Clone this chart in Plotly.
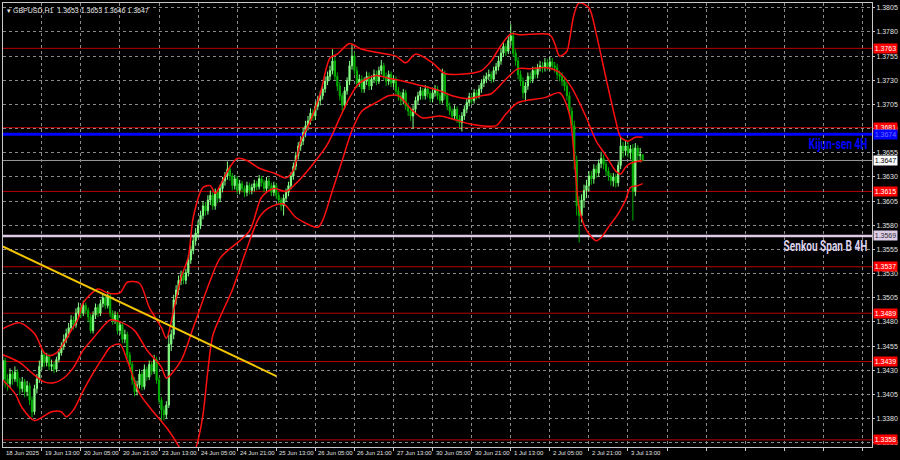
import plotly.graph_objects as go

# ---------------- data ----------------
first_open = 1.3420

close = [
    1.3440, 1.3421, 1.3416, 1.3426, 1.3421, 1.3428, 1.3418, 1.3411, 1.3418, 1.3408,
    1.3414, 1.3399, 1.3387, 1.3411, 1.3421, 1.3434, 1.3446, 1.3438, 1.3444, 1.3434,
    1.3436, 1.3431, 1.3441, 1.3448, 1.3455, 1.3462, 1.3468, 1.3474, 1.3482, 1.3477,
    1.3489, 1.3495, 1.3489, 1.3497, 1.3492, 1.3485, 1.3471, 1.3487, 1.3495, 1.3489,
    1.3499, 1.3505, 1.3497, 1.3507, 1.3489, 1.3482, 1.3487, 1.3471, 1.3477, 1.3462,
    1.3467, 1.3446, 1.3436, 1.3420, 1.3408, 1.3415, 1.3426, 1.3413, 1.3431, 1.3423,
    1.3436, 1.3429, 1.3441, 1.3420, 1.3399, 1.3389, 1.3384, 1.3394, 1.3457, 1.3467,
    1.3503, 1.3513, 1.3523, 1.3528, 1.3523, 1.3531, 1.3544, 1.3554, 1.3564, 1.3572,
    1.3580, 1.3590, 1.3600, 1.3595, 1.3606, 1.3611, 1.3600, 1.3614, 1.3608, 1.3618,
    1.3626, 1.3631, 1.3638, 1.3631, 1.3621, 1.3628, 1.3616, 1.3623, 1.3618, 1.3614,
    1.3621, 1.3616, 1.3619, 1.3623, 1.3620, 1.3628, 1.3624, 1.3618, 1.3626, 1.3621,
    1.3614, 1.3621, 1.3611, 1.3606, 1.3600, 1.3608, 1.3614, 1.3621, 1.3631, 1.3641,
    1.3652, 1.3662, 1.3667, 1.3676, 1.3683, 1.3688, 1.3696, 1.3693, 1.3703, 1.3709,
    1.3714, 1.3721, 1.3729, 1.3734, 1.3740, 1.3750, 1.3734, 1.3724, 1.3714, 1.3704,
    1.3719, 1.3729, 1.3745, 1.3755, 1.3740, 1.3727, 1.3731, 1.3721, 1.3729, 1.3734,
    1.3724, 1.3731, 1.3736, 1.3729, 1.3740, 1.3745, 1.3734, 1.3729, 1.3736, 1.3727,
    1.3731, 1.3719, 1.3714, 1.3709, 1.3717, 1.3703, 1.3698, 1.3693, 1.3700, 1.3709,
    1.3714, 1.3719, 1.3714, 1.3721, 1.3716, 1.3711, 1.3717, 1.3721, 1.3714, 1.3709,
    1.3737, 1.3714, 1.3703, 1.3698, 1.3693, 1.3700, 1.3690, 1.3686, 1.3693, 1.3700,
    1.3707, 1.3713, 1.3709, 1.3717, 1.3714, 1.3721, 1.3727, 1.3731, 1.3734, 1.3736,
    1.3731, 1.3740, 1.3744, 1.3750, 1.3758, 1.3765, 1.3760, 1.3771, 1.3776, 1.3758,
    1.3750, 1.3736, 1.3729, 1.3717, 1.3724, 1.3734, 1.3731, 1.3740, 1.3736, 1.3743,
    1.3745, 1.3743, 1.3748, 1.3744, 1.3749, 1.3745, 1.3743, 1.3736, 1.3734, 1.3729,
    1.3724, 1.3714, 1.3698, 1.3683, 1.3647, 1.3600, 1.3590, 1.3606, 1.3616, 1.3621,
    1.3631, 1.3628, 1.3638, 1.3634, 1.3644, 1.3649, 1.3643, 1.3636, 1.3631, 1.3626,
    1.3630, 1.3624, 1.3642, 1.3662, 1.3657, 1.3662, 1.3655, 1.3659, 1.3615, 1.3660,
    1.3652, 1.3653, 1.3647,
]

high = [
    1.3446, 1.3443, 1.3426, 1.3432, 1.3430, 1.3434, 1.3431, 1.3422, 1.3423, 1.3421,
    1.3419, 1.3417, 1.3403, 1.3415, 1.3426, 1.3440, 1.3452, 1.3449, 1.3448, 1.3447,
    1.3441, 1.3439, 1.3444, 1.3452, 1.3459, 1.3467, 1.3473, 1.3479, 1.3487, 1.3486,
    1.3494, 1.3500, 1.3498, 1.3502, 1.3500, 1.3495, 1.3488, 1.3491, 1.3499, 1.3498,
    1.3503, 1.3510, 1.3508, 1.3512, 1.3509, 1.3492, 1.3491, 1.3490, 1.3481, 1.3480,
    1.3472, 1.3470, 1.3449, 1.3439, 1.3423, 1.3419, 1.3431, 1.3429, 1.3436, 1.3434,
    1.3440, 1.3439, 1.3446, 1.3444, 1.3423, 1.3402, 1.3393, 1.3398, 1.3467, 1.3472,
    1.3508, 1.3518, 1.3528, 1.3533, 1.3532, 1.3535, 1.3549, 1.3559, 1.3569, 1.3577,
    1.3585, 1.3595, 1.3605, 1.3604, 1.3611, 1.3616, 1.3614, 1.3618, 1.3617, 1.3622,
    1.3630, 1.3635, 1.3646, 1.3642, 1.3634, 1.3632, 1.3631, 1.3627, 1.3626, 1.3621,
    1.3625, 1.3624, 1.3623, 1.3627, 1.3626, 1.3632, 1.3631, 1.3627, 1.3630, 1.3629,
    1.3624, 1.3625, 1.3624, 1.3614, 1.3609, 1.3612, 1.3618, 1.3625, 1.3635, 1.3645,
    1.3656, 1.3666, 1.3672, 1.3681, 1.3688, 1.3693, 1.3701, 1.3700, 1.3708, 1.3714,
    1.3719, 1.3726, 1.3734, 1.3739, 1.3745, 1.3762, 1.3754, 1.3738, 1.3728, 1.3717,
    1.3723, 1.3733, 1.3750, 1.3767, 1.3759, 1.3744, 1.3736, 1.3735, 1.3733, 1.3739,
    1.3738, 1.3735, 1.3741, 1.3740, 1.3744, 1.3751, 1.3748, 1.3738, 1.3740, 1.3739,
    1.3735, 1.3734, 1.3723, 1.3718, 1.3721, 1.3720, 1.3707, 1.3702, 1.3704, 1.3713,
    1.3718, 1.3723, 1.3722, 1.3725, 1.3724, 1.3719, 1.3721, 1.3725, 1.3724, 1.3717,
    1.3742, 1.3740, 1.3717, 1.3707, 1.3701, 1.3704, 1.3703, 1.3694, 1.3697, 1.3704,
    1.3711, 1.3717, 1.3716, 1.3721, 1.3720, 1.3725, 1.3731, 1.3735, 1.3738, 1.3741,
    1.3739, 1.3744, 1.3748, 1.3755, 1.3763, 1.3770, 1.3768, 1.3776, 1.3788, 1.3780,
    1.3762, 1.3754, 1.3740, 1.3733, 1.3728, 1.3738, 1.3738, 1.3744, 1.3744, 1.3747,
    1.3750, 1.3749, 1.3753, 1.3752, 1.3754, 1.3753, 1.3749, 1.3747, 1.3740, 1.3738,
    1.3733, 1.3728, 1.3718, 1.3702, 1.3688, 1.3652, 1.3610, 1.3612, 1.3622, 1.3627,
    1.3636, 1.3636, 1.3643, 1.3642, 1.3648, 1.3656, 1.3653, 1.3646, 1.3640, 1.3634,
    1.3634, 1.3633, 1.3646, 1.3671, 1.3666, 1.3667, 1.3666, 1.3663, 1.3664, 1.3665,
    1.3663, 1.3660, 1.3653,
]

low = [
    1.3414, 1.3412, 1.3409, 1.3412, 1.3415, 1.3418, 1.3413, 1.3404, 1.3407, 1.3402,
    1.3403, 1.3394, 1.3381, 1.3384, 1.3406, 1.3417, 1.3430, 1.3433, 1.3434, 1.3430,
    1.3429, 1.3427, 1.3428, 1.3438, 1.3445, 1.3451, 1.3458, 1.3464, 1.3471, 1.3472,
    1.3474, 1.3485, 1.3484, 1.3486, 1.3488, 1.3480, 1.3468, 1.3468, 1.3483, 1.3485,
    1.3486, 1.3495, 1.3493, 1.3494, 1.3485, 1.3477, 1.3478, 1.3467, 1.3467, 1.3458,
    1.3458, 1.3442, 1.3431, 1.3415, 1.3403, 1.3404, 1.3411, 1.3409, 1.3410, 1.3419,
    1.3420, 1.3425, 1.3426, 1.3416, 1.3395, 1.3377, 1.3378, 1.3380, 1.3391, 1.3450,
    1.3462, 1.3498, 1.3508, 1.3518, 1.3519, 1.3519, 1.3527, 1.3540, 1.3550, 1.3559,
    1.3567, 1.3576, 1.3586, 1.3590, 1.3591, 1.3601, 1.3596, 1.3596, 1.3603, 1.3604,
    1.3614, 1.3621, 1.3627, 1.3626, 1.3616, 1.3617, 1.3612, 1.3612, 1.3614, 1.3609,
    1.3610, 1.3612, 1.3612, 1.3615, 1.3616, 1.3617, 1.3620, 1.3614, 1.3615, 1.3617,
    1.3610, 1.3610, 1.3607, 1.3601, 1.3595, 1.3590, 1.3604, 1.3610, 1.3617, 1.3627,
    1.3637, 1.3648, 1.3657, 1.3663, 1.3671, 1.3678, 1.3684, 1.3688, 1.3689, 1.3699,
    1.3704, 1.3710, 1.3717, 1.3725, 1.3730, 1.3736, 1.3730, 1.3719, 1.3709, 1.3698,
    1.3700, 1.3715, 1.3725, 1.3741, 1.3736, 1.3722, 1.3723, 1.3717, 1.3717, 1.3725,
    1.3720, 1.3720, 1.3727, 1.3725, 1.3726, 1.3736, 1.3730, 1.3724, 1.3725, 1.3723,
    1.3723, 1.3715, 1.3709, 1.3704, 1.3705, 1.3699, 1.3693, 1.3688, 1.3680, 1.3696,
    1.3705, 1.3710, 1.3710, 1.3710, 1.3712, 1.3707, 1.3707, 1.3713, 1.3710, 1.3705,
    1.3706, 1.3710, 1.3699, 1.3694, 1.3689, 1.3689, 1.3686, 1.3681, 1.3677, 1.3689,
    1.3696, 1.3703, 1.3705, 1.3706, 1.3710, 1.3711, 1.3717, 1.3723, 1.3727, 1.3730,
    1.3727, 1.3728, 1.3736, 1.3740, 1.3746, 1.3754, 1.3755, 1.3757, 1.3766, 1.3754,
    1.3745, 1.3731, 1.3724, 1.3711, 1.3708, 1.3720, 1.3727, 1.3727, 1.3732, 1.3732,
    1.3739, 1.3738, 1.3739, 1.3740, 1.3740, 1.3741, 1.3738, 1.3731, 1.3729, 1.3724,
    1.3719, 1.3709, 1.3693, 1.3678, 1.3638, 1.3590, 1.3562, 1.3583, 1.3598, 1.3608,
    1.3615, 1.3622, 1.3623, 1.3629, 1.3630, 1.3639, 1.3638, 1.3631, 1.3626, 1.3621,
    1.3620, 1.3619, 1.3620, 1.3638, 1.3650, 1.3652, 1.3650, 1.3648, 1.3585, 1.3610,
    1.3646, 1.3645, 1.3646,
]

# Bollinger-type envelope (bar index, price)
bb_upper_idx = [0, 7, 13, 17, 19, 22, 25, 28, 31, 33, 39, 43, 48, 51, 56, 60, 65, 67, 70, 73,
                76, 78, 82, 85, 87, 89, 93, 96, 100, 105, 111, 116, 119, 122, 126, 130, 134, 137, 142, 147,
                155, 161, 165, 169, 176, 181, 191, 196, 200, 204, 208, 212, 224, 226, 228, 231, 232, 234, 236, 240,
                243, 247, 251, 253, 256, 259, 262]
bb_upper = [1.3473, 1.3479, 1.3468, 1.3448, 1.3445, 1.3448, 1.3458, 1.3471, 1.3484, 1.3500,
            1.3514, 1.3510, 1.3510, 1.3521, 1.3520, 1.3495, 1.3474, 1.3463, 1.3492, 1.3526,
            1.3547, 1.3588, 1.3619, 1.3621, 1.3613, 1.3621, 1.3640, 1.3649, 1.3647, 1.3639,
            1.3634, 1.3629, 1.3637, 1.3667, 1.3688, 1.3716, 1.3753, 1.3757, 1.3768, 1.3762,
            1.3758, 1.3755, 1.3748, 1.3757, 1.3748, 1.3737, 1.3737, 1.3740, 1.3750, 1.3766,
            1.3778, 1.3777, 1.3777, 1.3768, 1.3755, 1.3760, 1.3771, 1.3799, 1.3810, 1.3805,
            1.3778, 1.3732, 1.3688, 1.3671, 1.3667, 1.3671, 1.3671]

bb_mid_idx = [0, 7, 13, 17, 21, 25, 29, 33, 37, 44, 48, 54, 59, 65, 67, 73, 78, 85, 89, 101,
              106, 111, 116, 120, 126, 133, 138, 142, 146, 153, 158, 164, 172, 179, 184, 191, 196, 200, 206, 211,
              216, 223, 228, 233, 239, 243, 247, 251, 253, 255, 257, 262]
bb_mid = [1.3446, 1.3438, 1.3425, 1.3418, 1.3417, 1.3422, 1.3433, 1.3451, 1.3463, 1.3482,
          1.3480, 1.3471, 1.3451, 1.3433, 1.3422, 1.3440, 1.3474, 1.3523, 1.3546, 1.3574,
          1.3609, 1.3618, 1.3615, 1.3623, 1.3640, 1.3664, 1.3691, 1.3712, 1.3727, 1.3735,
          1.3732, 1.3729, 1.3724, 1.3719, 1.3714, 1.3711, 1.3714, 1.3716, 1.3731, 1.3742,
          1.3742, 1.3743, 1.3738, 1.3722, 1.3691, 1.3667, 1.3652, 1.3636, 1.3633, 1.3640,
          1.3644, 1.3647]

bb_low_idx = [0, 5, 8, 13, 20, 24, 26, 29, 33, 37, 41, 44, 48, 51, 56, 62, 67, 73, 75, 78,
              80, 82, 84, 86, 89, 94, 99, 105, 109, 115, 120, 129, 131, 135, 139, 143, 147, 153, 158, 162,
              168, 172, 179, 184, 191, 196, 202, 206, 211, 222, 228, 232, 234, 236, 239, 243, 245, 248, 252, 255,
              257, 260, 262]
bb_low = [1.3420, 1.3406, 1.3391, 1.3378, 1.3387, 1.3387, 1.3382, 1.3389, 1.3409, 1.3427,
          1.3443, 1.3454, 1.3457, 1.3440, 1.3406, 1.3386, 1.3371, 1.3347, 1.3335, 1.3342,
          1.3358, 1.3384, 1.3430, 1.3466, 1.3485, 1.3513, 1.3549, 1.3588, 1.3598, 1.3602,
          1.3588, 1.3578, 1.3585, 1.3616, 1.3647, 1.3678, 1.3698, 1.3707, 1.3714, 1.3714,
          1.3698, 1.3691, 1.3693, 1.3690, 1.3685, 1.3683, 1.3683, 1.3695, 1.3707, 1.3712,
          1.3717, 1.3695, 1.3650, 1.3598, 1.3575, 1.3564, 1.3567, 1.3578, 1.3592, 1.3606,
          1.3619, 1.3621, 1.3623]

trend_idx = [0, 112]
trend_price = [1.3558, 1.3424]

red_levels = [1.3763, 1.3681, 1.3615, 1.3537, 1.3489, 1.3439, 1.3358]
kijun_level = 1.3674
senkou_level = 1.3569
last_price = 1.3647

time_labels = ["18 Jun 2025", "19 Jun 13:00", "20 Jun 05:00", "20 Jun 21:00", "23 Jun 13:00",
               "24 Jun 05:00", "24 Jun 21:00", "25 Jun 13:00", "26 Jun 05:00", "26 Jun 21:00",
               "27 Jun 13:00", "30 Jun 05:00", "30 Jun 21:00", "1 Jul 13:00", "2 Jul 05:00",
               "2 Jul 21:00", "3 Jul 13:00"]
price_ticks = [1.3355, 1.3380, 1.3405, 1.3430, 1.3455, 1.3480, 1.3505, 1.3530, 1.3555, 1.3580,
               1.3605, 1.3630, 1.3655, 1.3680, 1.3705, 1.3730, 1.3755, 1.3780, 1.3805]
title_text = "\u25be GBPUSD,H1  1.3653 1.3653 1.3646 1.3647"

# ---------------- figure ----------------
bars = list(range(len(close)))
opens = [first_open] + close[:-1]
label_step = 16
X_MIN, X_MAX = 0.12, 355.9
SMALL = "Liberation Sans, Arial, sans-serif"
BOLD = "Roboto, Liberation Sans, Arial, sans-serif"

fig = go.Figure()
fig.add_trace(go.Candlestick(
    x=bars, open=opens, high=high, low=low, close=close,
    increasing=dict(line=dict(color="#86FF86", width=1), fillcolor="#86FF86"),
    decreasing=dict(line=dict(color="#00B000", width=1), fillcolor="#00B000"),
    whiskerwidth=0, hoverinfo="skip", showlegend=False,
))
for xi, yi in ((bb_upper_idx, bb_upper), (bb_mid_idx, bb_mid), (bb_low_idx, bb_low)):
    fig.add_trace(go.Scatter(x=xi, y=yi, mode="lines",
                             line=dict(color="#FF1010", width=1.5, shape="spline", smoothing=0.8),
                             hoverinfo="skip", showlegend=False))
fig.add_trace(go.Scatter(x=trend_idx, y=trend_price, mode="lines",
                         line=dict(color="#F2C500", width=2), hoverinfo="skip", showlegend=False))

shapes = []
for lv in red_levels:
    shapes.append(dict(type="line", xref="paper", x0=0, x1=1, yref="y", y0=lv, y1=lv,
                       line=dict(color="#B80000", width=1), layer="between"))
shapes.append(dict(type="line", xref="paper", x0=0, x1=1, yref="y", y0=last_price, y1=last_price,
                   line=dict(color="#9A9A9A", width=1), layer="between"))
shapes.append(dict(type="line", xref="paper", x0=0, x1=1, yref="y", y0=senkou_level, y1=senkou_level,
                   line=dict(color="#DCCCE6", width=2.5), layer="between"))
shapes.append(dict(type="line", xref="paper", x0=0, x1=1, yref="y", y0=kijun_level, y1=kijun_level,
                   line=dict(color="#0000FF", width=3), layer="between"))

annotations = []
# time labels, left aligned at their tick like MT4
for k, t in enumerate(time_labels):
    annotations.append(dict(x=max(k * label_step, X_MIN + 0.05), xref="x", y=0, yref="paper",
                            yanchor="top", yshift=-1, xanchor="left", xshift=1, text=t,
                            showarrow=False, font=dict(family=SMALL, size=6, color="#E0E0E0")))


def tag(val, bg, fg):
    annotations.append(dict(x=1, xref="paper", xanchor="left", xshift=1, y=val, yref="y",
                            yanchor="middle", text=f"{val:.4f}", showarrow=False, bgcolor=bg,
                            borderpad=0, width=23, height=9, align="center",
                            font=dict(family=SMALL, size=7, color=fg)))


for lv in red_levels:
    tag(lv, "#FF0000", "#FFFFFF")
tag(kijun_level, "#0000FF", "#7070FF")
tag(senkou_level, "#DCCCE6", "#303030")
tag(last_price, "#FFFFFF", "#000000")

annotations.append(dict(x=1, xref="paper", xanchor="right", xshift=-3, y=1.3664, yref="y",
                        yanchor="middle", text="<b>Kijun-sen 4H</b>", showarrow=False,
                        font=dict(family=BOLD, size=14, color="#0000FF")))
annotations.append(dict(x=1, xref="paper", xanchor="right", xshift=-3, y=1.3559, yref="y",
                        yanchor="middle", text="<b>Senkou Span B 4H</b>", showarrow=False,
                        font=dict(family=BOLD, size=14, color="#DCD0EC")))
annotations.append(dict(x=0, xref="paper", xanchor="left", xshift=2, y=1, yref="paper",
                        yanchor="top", yshift=-2, text=title_text, showarrow=False,
                        font=dict(family=SMALL, size=7, color="#E8E8E8")))

fig.update_layout(
    width=900, height=460,
    margin=dict(l=2, r=25, t=2, b=13),
    paper_bgcolor="#000000", plot_bgcolor="#000000",
    showlegend=False, shapes=shapes, annotations=annotations,
    xaxis=dict(range=[X_MIN, X_MAX], rangeslider=dict(visible=False),
               tickvals=list(range(0, 356, label_step)), showticklabels=False,
               ticks="outside", ticklen=3, tickcolor="#C8C8C8",
               showgrid=True, gridcolor="#8A8A8A", griddash="3px,3px", gridwidth=1,
               showline=True, linecolor="#C8C8C8", linewidth=1, mirror=True, zeroline=False),
    yaxis=dict(range=[1.33506, 1.38099], side="right",
               tickvals=price_ticks, ticktext=[f"{p:.4f}" for p in price_ticks],
               tickfont=dict(family=SMALL, size=7, color="#E0E0E0"),
               ticks="outside", ticklen=2, tickcolor="#C8C8C8",
               showgrid=True, gridcolor="#8A8A8A", griddash="3px,3px", gridwidth=1,
               showline=True, linecolor="#C8C8C8", linewidth=1, mirror=True, zeroline=False),
)

# condense the two bold indicator captions horizontally (MT4 uses a narrow bold face)
post = """
document.body.style.margin='0';document.body.style.padding='0';
document.querySelectorAll('text.annotation-text').forEach(function(t){
  if (t.textContent.indexOf('4H') >= 0) {
    var bb = t.getBBox(); var r = bb.x + bb.width;
    t.setAttribute('transform', 'translate(' + r + ',0) scale(0.72,1) translate(' + (-r) + ',0)');
  }
});
"""
fig.write_html("out.html", config={"displayModeBar": False}, post_script=post)
